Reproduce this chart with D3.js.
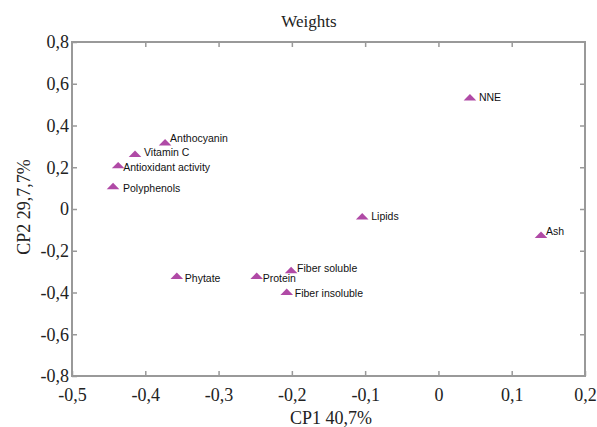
<!DOCTYPE html>
<html>
<head>
<meta charset="utf-8">
<script src="https://cdn.jsdelivr.net/npm/d3@7"></script>
<style>
  body { margin: 0; background: #fff; }
</style>
</head>
<body>
<div id="chart"></div>
<script>
// данные
let labels = ['Anthocyanin', 'Vitamin C', 'Antioxidant activity', 'Polyphenols', 'Phytate', 'Protein',
  'Fiber soluble', 'Fiber insoluble', 'Lipids', 'NNE', 'Ash'];
let cp1 = [-0.373, -0.414, -0.437, -0.444, -0.357, -0.248, -0.201, -0.207, -0.104, 0.043, 0.140];
let cp2 = [0.315, 0.260, 0.205, 0.105, -0.325, -0.325, -0.297, -0.402, -0.040, 0.530, -0.128];
let xTicks = [-0.5, -0.4, -0.3, -0.2, -0.1, 0, 0.1, 0.2];
let yTicks = [-0.8, -0.6, -0.4, -0.2, 0, 0.2, 0.4, 0.6, 0.8];

let width = 597, height = 427;
let mLeft = 72, mRight = 585, mTop = 42, mBottom = 376;

let svg = d3.select('#chart').append('svg')
  .attr('width', width)
  .attr('height', height);

let x = d3.scaleLinear().domain([-0.5, 0.2]).range([mLeft, mRight]);
let y = d3.scaleLinear().domain([-0.8, 0.8]).range([mBottom, mTop]);

let fmt = d => d === 0 ? '0' : d3.format('.1f')(d).replace('.', ',').replace('−', '-');
let axisColor = '#999';
let serif = '"Liberation Serif", "DejaVu Serif", serif';

function styleAxis(g) {
  g.attr('font-family', serif).attr('font-size', 18);
  g.select('.domain').remove();
  g.selectAll('.tick line').attr('stroke', axisColor).attr('stroke-width', 1.5);
  g.selectAll('.tick text').attr('fill', '#222');
}

// нижняя ось
svg.append('g').attr('transform', `translate(0,${mBottom})`)
  .call(d3.axisBottom(x).tickValues(xTicks).tickFormat(fmt).tickSizeInner(-5).tickPadding(12))
  .call(styleAxis);
// верхняя ось, только риски
svg.append('g').attr('transform', `translate(0,${mTop})`)
  .call(d3.axisTop(x).tickValues(xTicks.slice(1, -1)).tickFormat('').tickSizeInner(-5))
  .call(styleAxis);
// левая ось
svg.append('g').attr('transform', `translate(${mLeft},0)`)
  .call(d3.axisLeft(y).tickValues(yTicks).tickFormat(fmt).tickSizeInner(-5).tickPadding(3))
  .call(styleAxis);
// правая ось
svg.append('g').attr('transform', `translate(${mRight},0)`)
  .call(d3.axisRight(y).tickValues(yTicks.slice(1, -1)).tickFormat('').tickSizeInner(-5))
  .call(styleAxis);

// рамка
svg.append('rect')
  .attr('x', mLeft).attr('y', mTop)
  .attr('width', mRight - mLeft).attr('height', mBottom - mTop)
  .attr('fill', 'none').attr('stroke', axisColor).attr('stroke-width', 2);

let tri = d3.symbol().type(d3.symbolTriangle).size(38);

let pts = svg.append('g');
labels.forEach((name, i) => {
  pts.append('path')
    .attr('d', tri())
    .attr('transform', `translate(${x(cp1[i])},${y(cp2[i])}) scale(1.35,0.8)`)
    .attr('fill', '#b04aa6');
});

// подписи точек
let labelOff = {
  'Anthocyanin': [5, -5], 'Vitamin C': [9, -2], 'Antioxidant activity': [5, 1], 'Polyphenols': [10, 1],
  'Phytate': [8, 1], 'Protein': [6, 1], 'Fiber soluble': [6, -3], 'Fiber insoluble': [8, 0],
  'Lipids': [9, -1], 'NNE': [9, -1], 'Ash': [5, -4]
};
labels.forEach((name, i) => {
  svg.append('text')
    .attr('x', x(cp1[i]) + labelOff[name][0])
    .attr('y', y(cp2[i]) + labelOff[name][1])
    .attr('dy', '0.35em')
    .attr('font-family', '"Liberation Sans", Arial, sans-serif')
    .attr('font-size', 10.5)
    .attr('fill', '#111')
    .text(name);
});

// заголовок и подписи осей
svg.append('text').attr('x', 309).attr('y', 27).attr('text-anchor', 'middle')
  .attr('font-family', serif).attr('font-size', 17).attr('fill', '#222').text('Weights');
svg.append('text').attr('x', 331).attr('y', 424).attr('text-anchor', 'middle')
  .attr('font-family', serif).attr('font-size', 18).attr('fill', '#222').text('CP1 40,7%');
svg.append('text').attr('transform', `translate(30,207) rotate(-90)`).attr('text-anchor', 'middle')
  .attr('font-family', serif).attr('font-size', 18).attr('fill', '#222').text('CP2 29,7,7%');
</script>
</body>
</html>
